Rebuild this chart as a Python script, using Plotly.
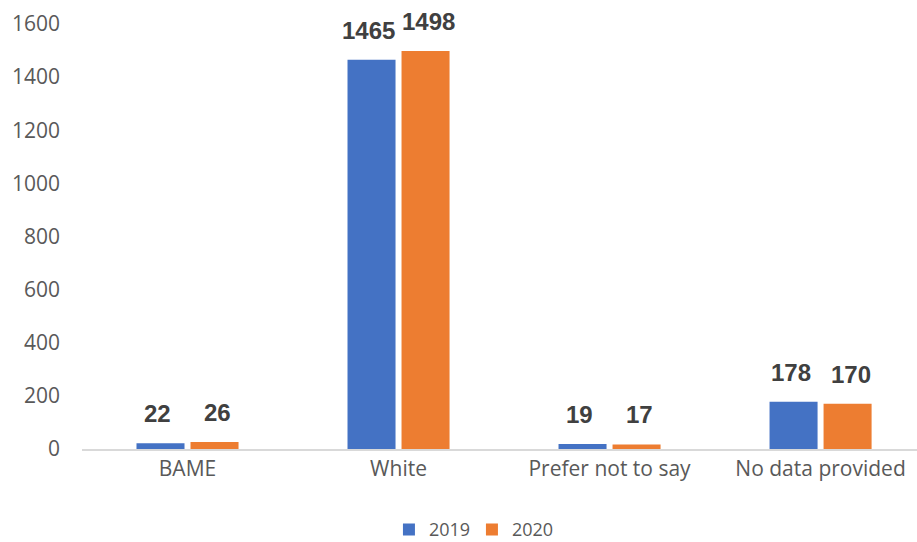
import plotly.graph_objects as go

categories = ["BAME", "White", "Prefer not to say", "No data provided"]
values_2019 = [22, 1465, 19, 178]
values_2020 = [26, 1498, 17, 170]
series_names = ["2019", "2020"]
y_ticks = [0, 200, 400, 600, 800, 1000, 1200, 1400, 1600]

blue = "#4472C4"
orange = "#ED7D31"

fig = go.Figure()
series = [(series_names[0], values_2019, blue, -30), (series_names[1], values_2020, orange, 30)]
for name, vals, col, shift in series:
    fig.add_trace(go.Bar(
        x=categories, y=vals, name=name, marker_color=col,
        marker_line_width=0, cliponaxis=False,
    ))
    for c, v in zip(categories, vals):
        fig.add_annotation(
            x=c, y=v, xref="x", yref="y", text=str(v), showarrow=False,
            xanchor="center", yanchor="bottom", xshift=shift, yshift=14,
            font=dict(family="Liberation Sans", size=24, color="#404040", weight="bold"),
        )

fig.update_layout(
    width=917, height=542,
    margin=dict(l=82, r=0, t=24, b=93, autoexpand=False),
    paper_bgcolor="white", plot_bgcolor="white",
    barmode="group", bargap=0.488, bargroupgap=0.111,
    font=dict(family="Open Sans", size=21, color="#595959"),
    showlegend=True,
    legend=dict(orientation="h", x=0.467, xanchor="center", y=-0.19, yanchor="middle",
                font=dict(size=18, color="#595959"), itemwidth=30, traceorder="normal",
                entrywidth=38, entrywidthmode="pixels"),
    xaxis=dict(range=[-0.5, 3.457], showline=True, linecolor="#D9D9D9", linewidth=2,
               ticks="", showgrid=False, tickfont=dict(size=21, color="#595959")),
    yaxis=dict(range=[0, 1600], tickvals=y_ticks, showgrid=False, zeroline=False,
               showline=False, ticks="", ticklabelstandoff=21,
               tickfont=dict(size=21, color="#595959")),
)

fig.write_html("out.html", config={"displayModeBar": False},
               post_script="document.body.style.margin='0';")
